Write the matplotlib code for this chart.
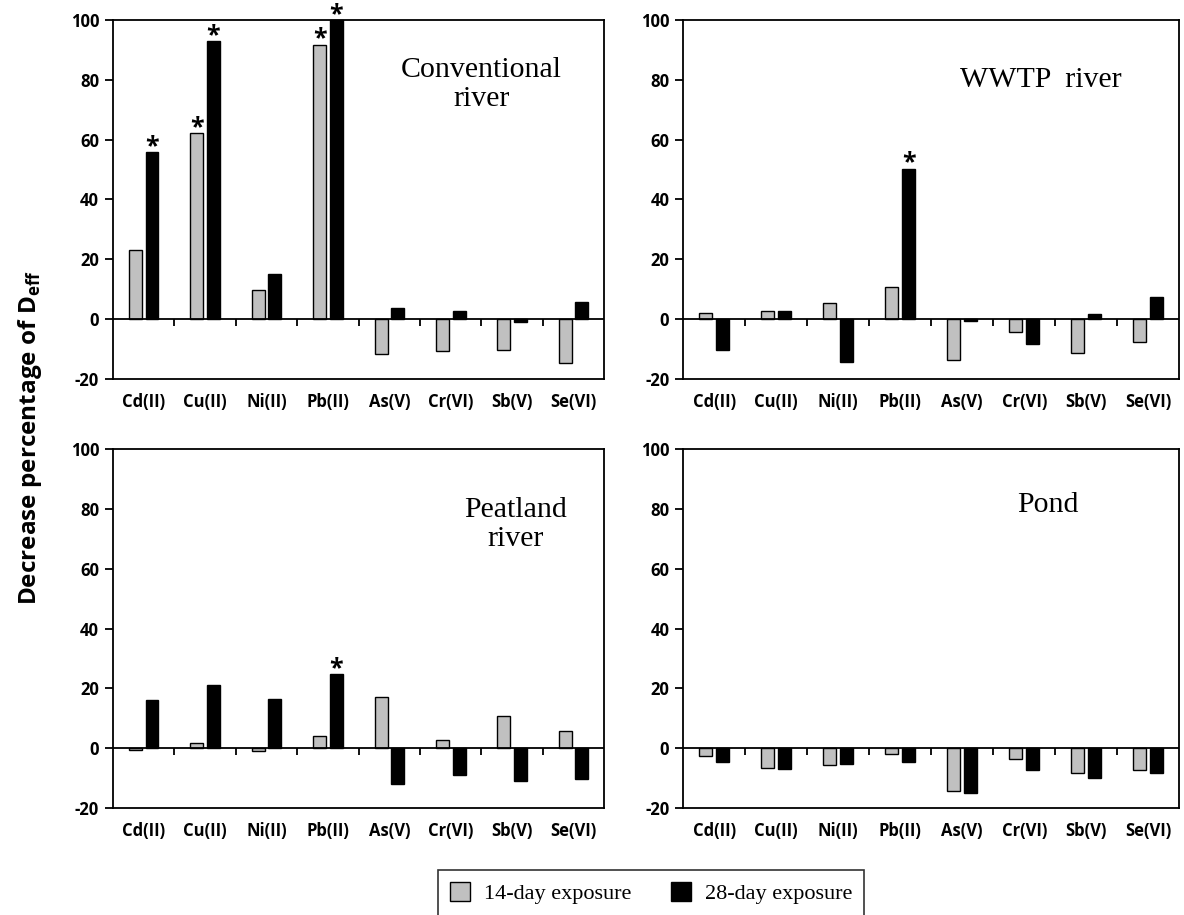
import matplotlib
matplotlib.use("Agg")
import matplotlib.pyplot as plt
import numpy as np
from matplotlib.patches import Patch

plt.rcParams['axes.unicode_minus'] = False
plt.rcParams['mathtext.fontset'] = 'custom'
plt.rcParams['mathtext.rm'] = 'Open Sans'
plt.rcParams['mathtext.bf'] = 'Open Sans:bold'

# ======数据======
metals = ['Cd(II)', 'Cu(II)', 'Ni(II)', 'Pb(II)', 'As(V)', 'Cr(VI)', 'Sb(V)', 'Se(VI)']
sites = ['Conventional\nriver', 'WWTP  river', 'Peatland\nriver', 'Pond']

# 14-day exposure
conv14 = [23.1, 62.3, 9.7, 91.8, -11.7, -10.6, -10.2, -14.7]
wwtp14 = [2.0, 2.6, 5.2, 10.8, -13.7, -4.5, -11.2, -7.6]
peat14 = [-0.5, 1.7, -1.1, 4.2, 17.0, 2.6, 10.8, 5.6]
pond14 = [-2.6, -6.7, -5.6, -1.9, -14.4, -3.6, -8.2, -7.2]

# 28-day exposure
conv28 = [55.8, 92.9, 14.9, 100.0, 3.7, 2.7, -1.1, 5.7]
wwtp28 = [-10.3, 2.6, -14.5, 50.3, -0.5, -8.3, 1.7, 7.3]
peat28 = [16.0, 21.1, 16.6, 24.7, -12.0, -8.9, -10.9, -10.3]
pond28 = [-4.7, -6.9, -5.2, -4.7, -15.1, -7.3, -9.9, -8.3]

# 显著性标记 (金属序号)
conv_star14 = [1, 3]
conv_star28 = [0, 1, 3]
wwtp_star28 = [3]
peat_star28 = [3]

data14 = [conv14, wwtp14, peat14, pond14]
data28 = [conv28, wwtp28, peat28, pond28]
stars14 = [conv_star14, [], [], []]
stars28 = [conv_star28, wwtp_star28, peat_star28, []]

# 面板标签位置 (axes fraction)
label_pos = [(0.75, 0.82), (0.72, 0.833), (0.82, 0.79), (0.735, 0.844)]

gray = '#c0c0c0'
sans = 'Open Sans'
serif = 'Liberation Serif'

fig = plt.figure(figsize=(11.84, 9.15), dpi=100)
rects = [
    [0.0954, 0.586, 0.415, 0.392],
    [0.577, 0.586, 0.419, 0.392],
    [0.0954, 0.117, 0.415, 0.392],
    [0.577, 0.117, 0.419, 0.392],
]

x = np.arange(len(metals))
w = 0.21
off = 0.135

for k in range(4):
    ax = fig.add_axes(rects[k])
    ax.bar(x - off, data14[k], w, color=gray, edgecolor='black', linewidth=1.0, zorder=2)
    ax.bar(x + off, data28[k], w, color='black', edgecolor='black', linewidth=1.0,
           zorder=2, clip_on=False)

    for i in stars14[k]:
        ax.annotate('*', (x[i] - off, data14[k][i]), xytext=(0, 13),
                    textcoords='offset points', ha='center', va='top',
                    fontsize=18, fontweight='bold', family=sans, annotation_clip=False)
    for i in stars28[k]:
        ax.annotate('*', (x[i] + off, data28[k][i]), xytext=(0, 13),
                    textcoords='offset points', ha='center', va='top',
                    fontsize=18, fontweight='bold', family=sans, annotation_clip=False)

    # 零线和类别分隔刻度
    ax.axhline(0, color='black', linewidth=1.3, zorder=3)
    bounds = x[:-1] + 0.5
    ax.vlines(bounds, -2.2, 0, color='black', linewidth=1.3, zorder=3)

    ax.set_xlim(-0.5, len(metals) - 0.5)
    ax.set_ylim(-20, 100)
    ax.set_yticks(np.arange(-20, 101, 20))
    ax.set_xticks(x)
    ax.set_xticklabels(metals)
    ax.tick_params(axis='x', length=0, pad=10)
    ax.tick_params(axis='y', direction='out', length=6, width=1.3, pad=4)
    for lab in ax.get_xticklabels() + ax.get_yticklabels():
        lab.set_fontfamily(sans)
        lab.set_fontweight('bold')
        lab.set_fontsize(12)
    for s in ax.spines.values():
        s.set_linewidth(1.3)

    ax.text(label_pos[k][0], label_pos[k][1], sites[k], transform=ax.transAxes,
            ha='center', va='center', fontsize=21.5, family=serif, linespacing=1.15)

fig.text(0.025, 0.522, r'Decrease percentage of D$_{\mathbf{eff}}$', rotation=90,
         ha='center', va='center', fontsize=17.5, fontweight='bold', family=sans)

handles = [Patch(facecolor=gray, edgecolor='black', linewidth=1.0),
           Patch(facecolor='black', edgecolor='black', linewidth=1.0)]
leg = fig.legend(handles, ['14-day exposure', '28-day exposure'], loc='upper center',
                 bbox_to_anchor=(0.55, 0.049), ncol=2, frameon=True, fancybox=False,
                 prop={'family': serif, 'size': 16}, handlelength=0.9, handleheight=0.9,
                 columnspacing=1.8, borderpad=0.55, handletextpad=0.6, edgecolor='black',
                 borderaxespad=0)
leg.get_frame().set_linewidth(1.2)

fig.savefig('out.png', dpi=100)
